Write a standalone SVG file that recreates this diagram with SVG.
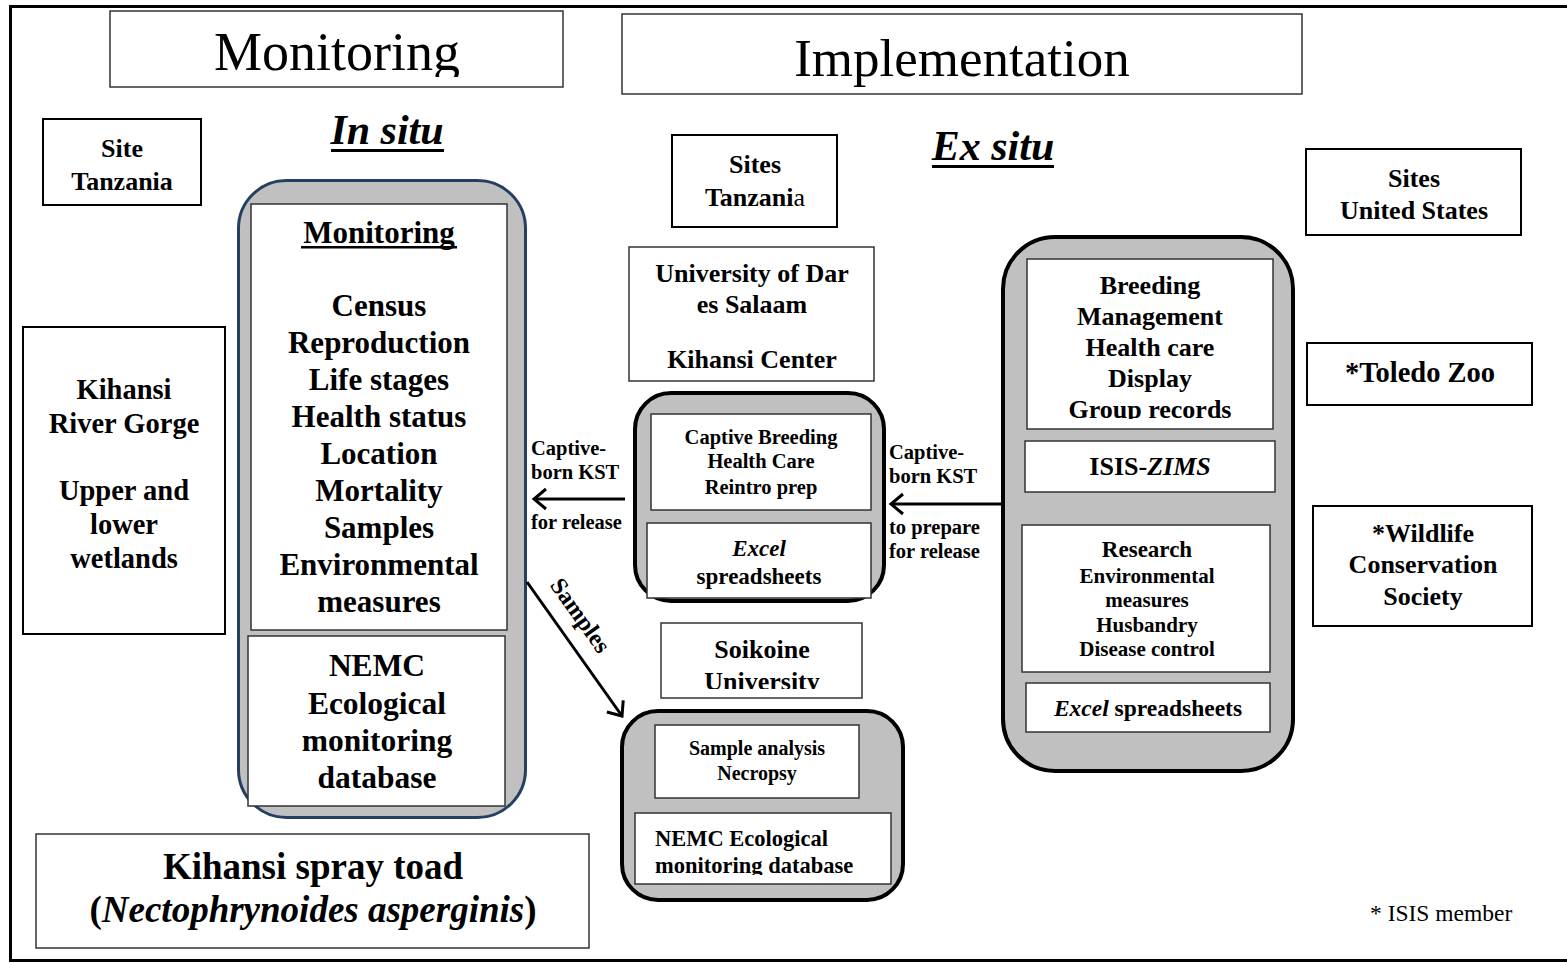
<svg xmlns="http://www.w3.org/2000/svg" width="1567" height="963" viewBox="0 0 1567 963">
<style>
text{font-family:"Liberation Serif","Times New Roman",serif;font-weight:bold;fill:#000;text-anchor:middle}
.reg{font-weight:normal}
.it{font-style:italic}
.box{fill:#fff;stroke:#000;stroke-width:2}
.thin{fill:#fff;stroke:#333;stroke-width:1.5}
.cont{fill:#c0c0c0;stroke:#000;stroke-width:4}
.conn{fill:none;stroke:#000;stroke-width:3}
.start{text-anchor:start}
</style>
<defs>
<marker id="chev" markerUnits="userSpaceOnUse" markerWidth="30" markerHeight="30" refX="15" refY="12" orient="auto" viewBox="0 0 30 24">
<path d="M3,2 L15,12 L3,22" fill="none" stroke="#000" stroke-width="3"/>
</marker>
<clipPath id="cMon"><rect x="110" y="11" width="453" height="66"/></clipPath>
<clipPath id="cGroup"><rect x="1027" y="259" width="246" height="160"/></clipPath>
<clipPath id="cSoik"><rect x="661" y="623" width="201" height="66"/></clipPath>
<clipPath id="cNemc2"><rect x="635" y="813" width="256" height="62"/></clipPath>
</defs>
<rect width="1567" height="963" fill="#fff"/>
<g id="frame" fill="none" stroke="#000" stroke-width="3">
<path d="M1567,6.5 H10.5 V960.5 H1567"/>
</g>

<g id="title-monitoring">
<rect x="110" y="11" width="453" height="76" fill="#fff" stroke="#333" stroke-width="1.5"/>
<text x="337" y="70" class="reg" font-size="54" clip-path="url(#cMon)">Monitoring</text>
</g>
<g id="title-implementation">
<rect x="622" y="14" width="680" height="80" fill="#fff" stroke="#333" stroke-width="1.5"/>
<text x="962" y="76" class="reg" font-size="53">Implementation</text>
</g>

<g id="label-insitu"><text x="387" y="144" class="it" font-size="42">In situ</text><rect x="331" y="149" width="113" height="3"/></g>
<g id="label-exsitu"><text x="993" y="160" class="it" font-size="42">Ex situ</text><rect x="932" y="165" width="122" height="3"/></g>

<g id="site-tanzania">
<rect x="43" y="119" width="158" height="86" class="box"/>
<text x="122" y="157" font-size="26">Site</text>
<text x="122" y="190" font-size="26">Tanzania</text>
</g>

<g id="kihansi-gorge">
<rect x="23" y="327" width="202" height="307" class="box"/>
<text x="124" y="399" font-size="28.5">Kihansi</text>
<text x="124" y="433" font-size="28.5">River Gorge</text>
<text x="124" y="500" font-size="28.5">Upper and</text>
<text x="124" y="534" font-size="28.5">lower</text>
<text x="124" y="568" font-size="28.5">wetlands</text>
</g>

<g id="insitu-container">
<rect x="238.5" y="180.5" width="287" height="637" rx="48" fill="#c0c0c0" stroke="#243f60" stroke-width="3"/>
<rect x="251" y="204" width="256" height="426" class="thin"/>
<text x="379" y="243" font-size="31">Monitoring</text>
<rect x="301" y="246" width="156" height="2.5"/>
<text x="379" y="316" font-size="31">Census</text>
<text x="379" y="353" font-size="31">Reproduction</text>
<text x="379" y="390" font-size="31">Life stages</text>
<text x="379" y="427" font-size="31">Health status</text>
<text x="379" y="464" font-size="31">Location</text>
<text x="379" y="501" font-size="31">Mortality</text>
<text x="379" y="538" font-size="31">Samples</text>
<text x="379" y="575" font-size="31">Environmental</text>
<text x="379" y="612" font-size="31">measures</text>
<rect x="248" y="636" width="257" height="170" class="thin"/>
<text x="377" y="676" font-size="31.5">NEMC</text>
<text x="377" y="714" font-size="31.5">Ecological</text>
<text x="377" y="751" font-size="31.5">monitoring</text>
<text x="377" y="788" font-size="31.5">database</text>
</g>

<g id="species">
<rect x="36" y="834" width="553" height="114" fill="#fff" stroke="#333" stroke-width="1.5"/>
<text x="313" y="879" font-size="37">Kihansi spray toad</text>
<text x="313" y="922" font-size="37">(<tspan class="it">Nectophrynoides asperginis</tspan>)</text>
</g>

<g id="sites-tanzania">
<rect x="672" y="135" width="165" height="92" class="box"/>
<text x="755" y="173" font-size="26">Sites</text>
<text x="755" y="206" font-size="26">Tanzani<tspan class="reg">a</tspan></text>
</g>

<g id="udsm">
<rect x="629" y="247" width="245" height="134" class="thin"/>
<text x="752" y="282" font-size="26">University of Dar</text>
<text x="752" y="313" font-size="26">es Salaam</text>
<text x="752" y="368" font-size="26">Kihansi Center</text>
</g>

<g id="captive-container">
<rect x="635" y="393" width="249" height="208" rx="36" class="cont"/>
<rect x="651" y="414" width="220" height="96" class="thin"/>
<text x="761" y="444" font-size="20.5">Captive Breeding</text>
<text x="761" y="468" font-size="20.5">Health Care</text>
<text x="761" y="494" font-size="20.5">Reintro prep</text>
<rect x="647" y="523" width="224" height="75" class="thin"/>
<text x="759" y="556" class="it" font-size="23">Excel</text>
<text x="759" y="584" font-size="23">spreadsheets</text>
</g>

<g id="soikoine">
<rect x="661" y="623" width="201" height="75" class="thin"/>
<text x="762" y="658" font-size="26">Soikoine</text>
<text x="762" y="690" font-size="26" clip-path="url(#cSoik)">University</text>
</g>

<g id="sample-container">
<rect x="622" y="711" width="281" height="189" rx="36" class="cont"/>
<rect x="655" y="725" width="204" height="73" class="thin"/>
<text x="757" y="755" font-size="20">Sample analysis</text>
<text x="757" y="780" font-size="20">Necropsy</text>
<rect x="635" y="813" width="256" height="71" class="thin"/>
<text x="655" y="846" class="start" font-size="22.5">NEMC Ecological</text>
<text x="655" y="873" class="start" font-size="22.5" clip-path="url(#cNemc2)">monitoring database</text>
</g>

<g id="exsitu-container">
<rect x="1003" y="237" width="290" height="534" rx="52" class="cont"/>
<rect x="1027" y="259" width="246" height="170" class="thin"/>
<g clip-path="url(#cGroup)">
<text x="1150" y="294" font-size="26">Breeding</text>
<text x="1150" y="325" font-size="26">Management</text>
<text x="1150" y="356" font-size="26">Health care</text>
<text x="1150" y="387" font-size="26">Display</text>
<text x="1150" y="418" font-size="26">Group records</text>
</g>
<rect x="1025" y="441" width="250" height="51" class="thin"/>
<text x="1150" y="475" font-size="26">ISIS-<tspan class="it">ZIMS</tspan></text>
<rect x="1022" y="525" width="248" height="147" class="thin"/>
<text x="1147" y="557" font-size="23">Research</text>
<text x="1147" y="583" font-size="21">Environmental</text>
<text x="1147" y="607" font-size="21">measures</text>
<text x="1147" y="632" font-size="21">Husbandry</text>
<text x="1147" y="656" font-size="21">Disease control</text>
<rect x="1026" y="683" width="244" height="49" class="thin"/>
<text x="1148" y="716" font-size="23.5"><tspan class="it">Excel</tspan> spreadsheets</text>
</g>

<g id="sites-us">
<rect x="1306" y="149" width="215" height="86" class="box"/>
<text x="1414" y="187" font-size="26">Sites</text>
<text x="1414" y="219" font-size="26">United States</text>
</g>
<g id="toledo">
<rect x="1307" y="343" width="225" height="62" class="box"/>
<text x="1420" y="382" font-size="28.5">*Toledo Zoo</text>
</g>
<g id="wcs">
<rect x="1313" y="506" width="219" height="120" class="box"/>
<text x="1423" y="542" font-size="26">*Wildlife</text>
<text x="1423" y="573" font-size="26">Conservation</text>
<text x="1423" y="605" font-size="26">Society</text>
</g>

<g id="connectors">
<line x1="625" y1="499" x2="534" y2="499" class="conn" marker-end="url(#chev)"/>
<line x1="1001" y1="504" x2="891" y2="504" class="conn" marker-end="url(#chev)"/>
<line x1="527" y1="582" x2="622" y2="716" class="conn" marker-end="url(#chev)"/>
</g>
<g id="connector-labels">
<text x="531" y="455" class="start" font-size="20.5">Captive-</text>
<text x="531" y="479" class="start" font-size="20.5">born KST</text>
<text x="531" y="529" class="start" font-size="20.5">for release</text>
<text x="889" y="459" class="start" font-size="20.5">Captive-</text>
<text x="889" y="483" class="start" font-size="20.5">born KST</text>
<text x="889" y="534" class="start" font-size="20.5">to prepare</text>
<text x="889" y="558" class="start" font-size="20.5">for release</text>
<text x="0" y="0" font-size="24" transform="translate(574,620) rotate(54.5)">Samples</text>
</g>

<g id="footnote">
<text x="1370" y="921" class="reg start" font-size="23.5">* ISIS member</text>
</g>
</svg>
